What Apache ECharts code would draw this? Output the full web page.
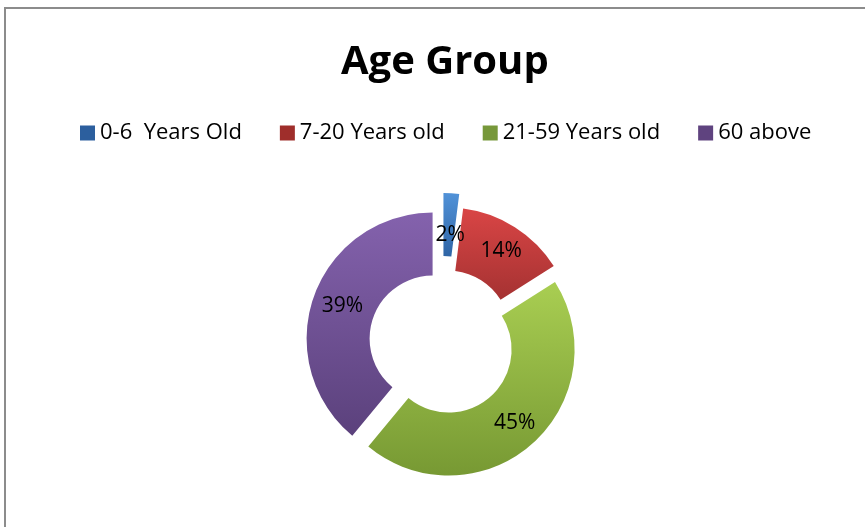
<!DOCTYPE html>
<html>
<head>
    <meta charset="utf-8">
    <title>Age Group</title>
    <script src="https://cdn.jsdelivr.net/npm/echarts@6/dist/echarts.min.js"></script>
    <style>
        html, body { margin: 0; padding: 0; background: #fff; }
        #container { width: 865px; height: 527px; }
    </style>
</head>
<body>
<div id="container"></div>
<script type="text/javascript">
// chart data
var categories = ['0-6  Years Old', '7-20 Years old', '21-59 Years old', '60 above'];
var values = [2, 14, 45, 39];

// colours: legend swatch, slice top, slice bottom
var solid = ['#2c5f9e', '#9f2e2b', '#77983a', '#5f437f'];
var topCol = ['#5192d8', '#d94545', '#a9ce52', '#8462ad'];
var botCol = ['#2f65a6', '#a53232', '#779933', '#5b417c'];

var dom = document.getElementById('container');
var myChart = echarts.init(dom);

function grad(i) {
    return new echarts.graphic.LinearGradient(0, 0, 0, 1, [
        {offset: 0, color: topCol[i]},
        {offset: 1, color: botCol[i]}
    ]);
}

// first slice is pulled out further than the rest, so it gets its own layer
function buildData(onlyFirst) {
    return values.map(function (v, i) {
        var visible = onlyFirst ? i === 0 : i !== 0;
        return {
            name: categories[i],
            value: v,
            selected: true,
            itemStyle: {color: visible ? grad(i) : 'rgba(0,0,0,0)'}
        };
    });
}

var common = {
    type: 'pie',
    center: [442, 342],
    radius: [63, 126],
    startAngle: 90,
    clockwise: true,
    selectedMode: 'multiple',
    avoidLabelOverlap: false,
    emphasis: {scale: false},
    labelLine: {show: false}
};

var option = {
    animation: false,
    title: {
        text: 'Age Group',
        left: 336,
        top: 38,
        textStyle: {
            fontFamily: 'Open Sans',
            fontSize: 40,
            fontWeight: 'bold',
            color: '#000'
        }
    },
    legend: {
        top: 117,
        left: 75,
        itemWidth: 15,
        itemHeight: 15,
        itemGap: 38,
        icon: 'rect',
        textStyle: {
            fontFamily: 'Open Sans',
            fontSize: 22,
            color: '#000'
        },
        data: categories.map(function (c, i) {
            return {name: c, itemStyle: {color: solid[i]}};
        })
    },
    graphic: [{
        type: 'rect',
        shape: {x: 5, y: 8, width: 1000, height: 800},
        style: {fill: 'none', stroke: '#8c8c8c', lineWidth: 2},
        silent: true
    }],
    series: [
        Object.assign({}, common, {
            name: 'Age Group (pulled)',
            selectedOffset: 23,
            label: {show: false},
            data: buildData(true)
        }),
        Object.assign({}, common, {
            name: 'Age Group',
            selectedOffset: 10,
            label: {
                show: true,
                position: 'inside',
                formatter: '{d}%',
                fontFamily: 'Open Sans',
                fontSize: 21,
                color: '#000',
                padding: [8, 0, 0, 3]
            },
            data: buildData(false)
        })
    ]
};

myChart.setOption(option, true);
</script>
</body>
</html>
